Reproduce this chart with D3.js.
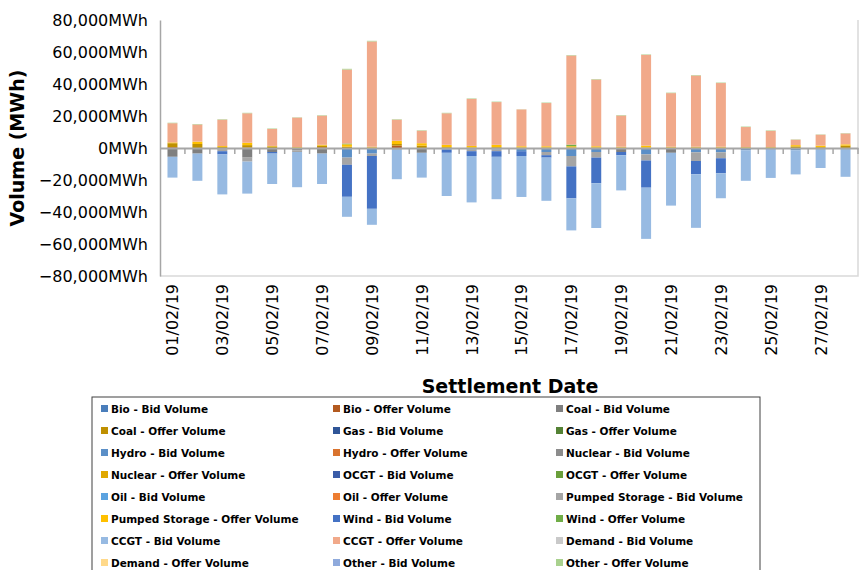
<!DOCTYPE html>
<html><head><meta charset="utf-8">
<script src="https://cdn.jsdelivr.net/npm/d3@7"></script>
<style>body{margin:0;background:#fff}text{font-family:"DejaVu Sans",Verdana,sans-serif}</style>
</head><body>
<script>
const width = 860, height = 570;

const dates = ['01/02/19','02/02/19','03/02/19','04/02/19','05/02/19','06/02/19','07/02/19','08/02/19','09/02/19','10/02/19',
  '11/02/19','12/02/19','13/02/19','14/02/19','15/02/19','16/02/19','17/02/19','18/02/19','19/02/19','20/02/19',
  '21/02/19','22/02/19','23/02/19','24/02/19','25/02/19','26/02/19','27/02/19','28/02/19'];
const yTicks = [-80000,-60000,-40000,-20000,0,20000,40000,60000,80000];

const seriesNames = ['Bio - Bid Volume','Bio - Offer Volume','Coal - Bid Volume','Coal - Offer Volume','Gas - Bid Volume','Gas - Offer Volume',
  'Hydro - Bid Volume','Hydro - Offer Volume','Nuclear - Bid Volume','Nuclear - Offer Volume','OCGT - Bid Volume','OCGT - Offer Volume',
  'Oil - Bid Volume','Oil - Offer Volume','Pumped Storage - Bid Volume','Pumped Storage - Offer Volume','Wind - Bid Volume','Wind - Offer Volume',
  'CCGT - Bid Volume','CCGT - Offer Volume','Demand - Bid Volume','Demand - Offer Volume','Other - Bid Volume','Other - Offer Volume'];
const seriesColors = ['#4a7ebb','#b35a20','#7f7f7f','#bf9000','#2f5597','#548235','#5b8fc7','#d9732e','#8c8c8c','#e0a800','#3a5ca8','#6a9f3a',
  '#5ba3e0','#ed7d31','#a5a5a5','#ffc000','#4472c4','#70ad47','#97bae2','#f1a98a','#c9c9c9','#ffd98a','#8faadc','#a9d18e'];

// values per day (MWh)
const bioOffer   = [500,0,0,300,0,0,500,0,0,1500,0,0,0,0,0,0,0,0,0,0,0,0,0,0,0,0,0,0];
const coalBid    = [-5500,-3500,-1000,-6000,-2500,-1500,-3500,0,0,-1000,-3000,0,0,0,0,0,0,0,-2500,0,-3000,0,0,0,0,0,0,0];
const coalOffer  = [2500,2500,600,1500,1000,300,1000,800,300,1000,1500,500,300,500,300,300,300,300,300,300,300,300,300,300,300,1000,500,1500];
const hydroBid   = [0,0,0,0,0,0,0,-6000,-3500,0,0,-1000,-1000,-1000,-2000,-2500,-5000,-2500,0,-4000,0,-2700,-2700,-1500,-1000,-1500,-500,-500];
const psBid      = [0,0,-1000,-2500,0,-1000,0,-4500,-1500,0,0,0,-1000,-1000,0,-2000,-6500,-3500,0,-3800,0,-5400,-3700,0,0,0,0,0];
const psOffer    = [500,1500,600,1500,300,300,500,1500,500,2000,1500,1500,1000,1500,800,800,800,800,500,1200,500,500,500,300,300,800,1000,800];
const windBid    = [0,0,-2000,0,-1000,0,0,-20000,-33000,0,0,-2000,-3000,-3500,-3000,-1500,-20000,-16000,-2000,-17000,0,-8300,-9400,0,0,0,0,0];
const windOffer  = [0,0,0,0,0,0,0,500,0,0,0,0,0,0,0,0,1000,0,0,0,0,0,0,0,0,0,0,0];
const ccgtBid    = [-13000,-17000,-25000,-20000,-19000,-22000,-19000,-12500,-10000,-18500,-15500,-27000,-29000,-26500,-25600,-27000,-20000,-28000,-22000,-32000,-33000,-33500,-15600,-19000,-17700,-15000,-12000,-17500];
const ccgtOffer  = [12000,10700,16500,18400,10600,18400,18200,46200,65800,13200,7800,19700,29400,26700,23000,27000,55700,41700,19500,56700,33500,44500,39800,12500,10100,3400,6800,6800];
const otherOffer = [300,300,300,300,300,200,300,500,400,300,300,300,300,300,100,300,300,300,300,300,300,300,300,300,300,200,200,200];

const seriesData = {
  'Bio - Offer Volume': bioOffer, 'Coal - Bid Volume': coalBid, 'Coal - Offer Volume': coalOffer,
  'Hydro - Bid Volume': hydroBid, 'Pumped Storage - Bid Volume': psBid, 'Pumped Storage - Offer Volume': psOffer,
  'Wind - Bid Volume': windBid, 'Wind - Offer Volume': windOffer, 'CCGT - Bid Volume': ccgtBid,
  'CCGT - Offer Volume': ccgtOffer, 'Other - Offer Volume': otherOffer
};

const rows = dates.map((d, i) => {
  const r = {date: d};
  seriesNames.forEach(s => r[s] = seriesData[s] ? seriesData[s][i] : 0);
  return r;
});

const pLeft = 160, pRight = 858, pTop = 20, pBottom = 276;

const svg = d3.select('body').append('svg').attr('width', width).attr('height', height);

const x = d3.scaleBand().domain(dates).range([pLeft, pRight]).paddingInner(0.6).paddingOuter(0.3);
const xb = d3.scaleBand().domain(dates).range([pLeft, pRight]);
const y = d3.scaleLinear().domain([-80000, 80000]).range([pBottom, pTop]);

// plot border
svg.append('path').attr('d', `M${pLeft},${pBottom}H${pRight}V${pTop}`)
  .attr('fill', 'none').attr('stroke', '#d9d9d9').attr('stroke-width', 1.5);

const stacked = d3.stack().keys(seriesNames).offset(d3.stackOffsetDiverging)(rows);

svg.append('g').selectAll('g').data(stacked).join('g')
  .attr('fill', (d, i) => seriesColors[i])
  .selectAll('rect').data(d => d).join('rect')
  .attr('x', d => x(d.data.date))
  .attr('width', x.bandwidth())
  .attr('y', d => y(d[1]))
  .attr('height', d => Math.abs(y(d[0]) - y(d[1])));

// y axis
const yAxis = svg.append('g').attr('transform', `translate(${pLeft},0)`)
  .call(d3.axisLeft(y).tickValues(yTicks).tickSize(0).tickPadding(12).tickFormat(d => d3.format(',')(d) + 'MWh'));
yAxis.select('.domain').attr('stroke', '#a6a6a6').attr('stroke-width', 1.5);
yAxis.selectAll('text').attr('font-size', 16).attr('fill', '#000')
  .style('font-family', '"DejaVu Sans",Verdana,sans-serif');

// zero line with category ticks
const zero = svg.append('g').attr('transform', `translate(0,${y(0)})`)
  .call(d3.axisBottom(xb).tickSize(0).tickFormat(''));
zero.select('.domain').attr('stroke', '#a6a6a6').attr('stroke-width', 2);
svg.append('g').selectAll('line').data(dates).join('line')
  .attr('x1', d => xb(d) + xb.bandwidth()).attr('x2', d => xb(d) + xb.bandwidth())
  .attr('y1', y(0)).attr('y2', y(0) + 6).attr('stroke', '#a6a6a6').attr('stroke-width', 1.5);

// date labels
svg.append('g').selectAll('text').data(dates.filter((d, i) => i % 2 === 0)).join('text')
  .attr('transform', d => `translate(${xb(d) + xb.bandwidth() / 2 + 6},${pBottom + 8}) rotate(-90)`)
  .attr('text-anchor', 'end').attr('font-size', 16).text(d => d);

// axis titles
svg.append('text').attr('transform', `translate(24,${y(0)}) rotate(-90)`).attr('text-anchor', 'middle')
  .attr('font-size', 19).attr('font-weight', 'bold').text('Volume (MWh)');
svg.append('text').attr('x', 510).attr('y', 393).attr('text-anchor', 'middle')
  .attr('font-size', 19).attr('font-weight', 'bold').text('Settlement Date');

// legend
const lg = svg.append('g');
lg.append('rect').attr('x', 92).attr('y', 397).attr('width', 668).attr('height', 190)
  .attr('fill', '#fff').attr('stroke', '#404040').attr('stroke-width', 1);
const colX = [101, 333, 556];
const items = lg.selectAll('g.item').data(seriesNames).join('g').attr('class', 'item')
  .attr('transform', (d, i) => `translate(${colX[i % 3]},${409 + Math.floor(i / 3) * 22})`);
items.append('rect').attr('x', 0).attr('y', -4).attr('width', 7).attr('height', 7)
  .attr('fill', (d, i) => seriesColors[i]);
items.append('text').attr('x', 10).attr('y', 4).attr('font-size', 10.5).attr('font-weight', 'bold').text(d => d);
</script>
</body></html>
